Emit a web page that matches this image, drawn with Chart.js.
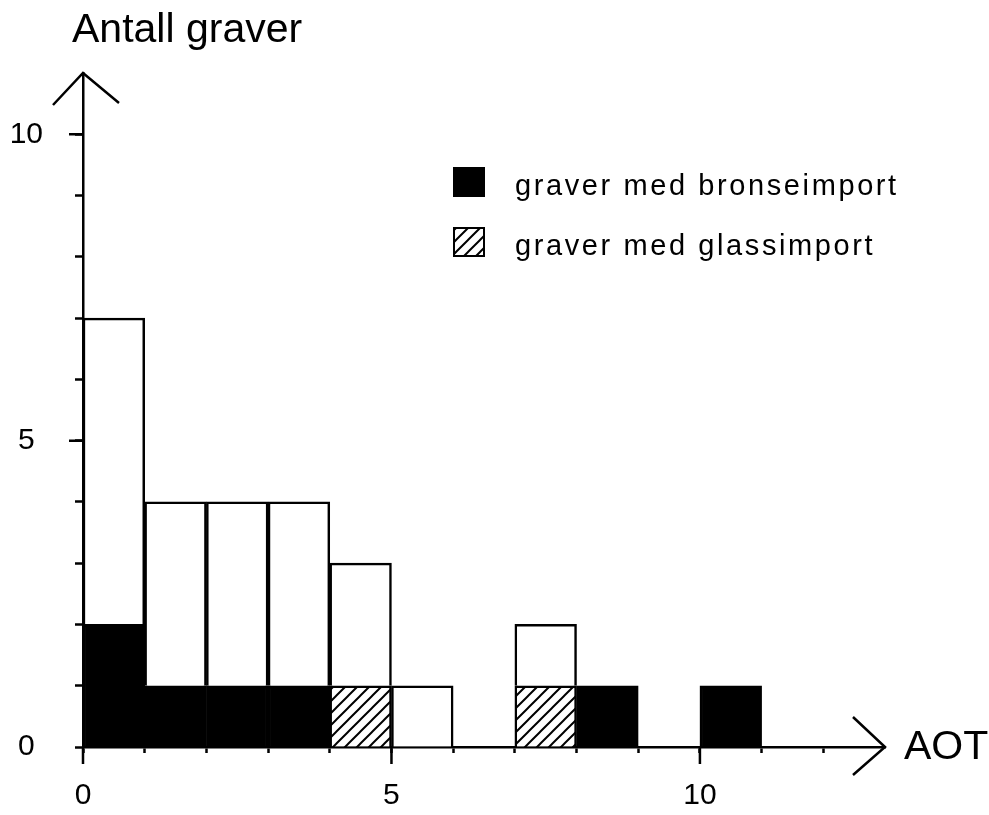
<!DOCTYPE html>
<html>
<head>
<meta charset="utf-8">
<script src="https://cdn.jsdelivr.net/npm/chart.js@4.4.1/dist/chart.umd.min.js"></script>
<style>
  html, body { margin: 0; padding: 0; background: #fff; }
  #wrap { width: 989px; height: 815px; }
</style>
</head>
<body>
<div id="wrap"><canvas id="myChart" width="989" height="815"></canvas></div>
<script>
// AOT bins (start of each interval, width 1)
const binStart = [0, 1, 2, 3, 4, 5, 6, 7, 8, 9, 10];
// number of graves per bin
const bronse = [2, 1, 1, 1, 0, 0, 0, 0, 1, 0, 1];
const glass  = [0, 0, 0, 0, 1, 0, 0, 1, 0, 0, 0];
const andre  = [5, 3, 3, 3, 2, 1, 0, 1, 0, 0, 0];
// labelled ticks
const xLabels = [0, 5, 10];
const yLabels = [0, 5, 10];

const seriesNames = ['graver med bronseimport', 'graver med glassimport', 'andre graver'];
const yTitle = 'Antall graver';
const xTitle = 'AOT';

const ctx = document.getElementById('myChart').getContext('2d');
const FONT = "'Liberation Sans', Arial, Helvetica, sans-serif";

// diagonal hatch for glass
function makeHatch() {
    const c = document.createElement('canvas');
    c.width = 12; c.height = 12;
    const g = c.getContext('2d');
    g.fillStyle = '#fff';
    g.fillRect(0, 0, 12, 12);
    g.strokeStyle = '#000';
    g.lineWidth = 2;
    g.beginPath();
    g.moveTo(0, 12); g.lineTo(12, 0);
    g.moveTo(-6, 6); g.lineTo(6, -6);
    g.moveTo(6, 18); g.lineTo(18, 6);
    g.stroke();
    return ctx.createPattern(c, 'repeat');
}
const hatch = makeHatch();

function toPoints(values) {
    return values.map((v, i) => ({ x: binStart[i] + 0.5, y: v }));
}

// arrows, long ticks, titles and legend
const decor = {
    id: 'decor',
    afterDraw(chart) {
        const c = chart.ctx;
        const xs = chart.scales.x, ys = chart.scales.y;
        const x0 = xs.getPixelForValue(0), y0 = ys.getPixelForValue(0);
        const top = chart.chartArea.top, right = chart.chartArea.right;
        c.save();
        c.strokeStyle = '#000';
        c.lineWidth = 2.5;
        c.beginPath();
        // y arrow
        c.moveTo(x0 - 30, top + 32); c.lineTo(x0, top); c.lineTo(x0 + 36, top + 30);
        // x arrow
        c.moveTo(right - 32, y0 - 30); c.lineTo(right, y0); c.lineTo(right - 32, y0 + 28);
        // longer ticks
        xLabels.forEach(v => { const p = xs.getPixelForValue(v); c.moveTo(p, y0); c.lineTo(p, y0 + 17); });
        yLabels.filter(v => v > 0).forEach(v => { const p = ys.getPixelForValue(v); c.moveTo(x0, p); c.lineTo(x0 - 14, p); });
        c.stroke();

        c.fillStyle = '#000';
        c.textBaseline = 'alphabetic';
        c.font = '41px ' + FONT;
        c.textAlign = 'left';
        c.fillText(yTitle, 72, 42);
        c.fillText(xTitle, 904, y0 + 12);

        // legend
        c.font = '29px ' + FONT;
        c.letterSpacing = '2.6px';
        const ds = chart.data.datasets;
        [0, 1].forEach((k, i) => {
            const by = 167 + i * 60;
            c.fillStyle = ds[k].backgroundColor;
            c.fillRect(453, by, 32, 30);
            c.lineWidth = 2;
            c.strokeRect(454, by + 1, 30, 28);
            c.fillStyle = '#000';
            c.fillText(ds[k].label, 515, by + 28);
        });
        c.restore();
    }
};

new Chart(ctx, {
    type: 'bar',
    data: {
        datasets: [
            { label: seriesNames[0], data: toPoints(bronse), backgroundColor: '#000', borderColor: '#000', borderWidth: 2.5 },
            { label: seriesNames[1], data: toPoints(glass), backgroundColor: hatch, borderColor: '#000', borderWidth: 2.5 },
            { label: seriesNames[2], data: toPoints(andre), backgroundColor: '#fff', borderColor: '#000', borderWidth: 2.5 }
        ]
    },
    options: {
        responsive: false,
        animation: false,
        barPercentage: 1,
        categoryPercentage: 1,
        layout: { padding: { top: 73, right: 104, left: 0, bottom: 0 } },
        plugins: { legend: { display: false }, tooltip: { enabled: false } },
        scales: {
            x: {
                type: 'linear',
                stacked: true,
                min: 0,
                max: 13,
                offset: false,
                grid: { offset: false, drawOnChartArea: false, drawTicks: true, tickLength: 6, tickColor: '#000', tickWidth: 2.5 },
                border: { display: true, color: '#000', width: 2.5 },
                ticks: {
                    stepSize: 1,
                    padding: 25,
                    maxRotation: 0,
                    autoSkip: false,
                    color: '#000',
                    font: { family: FONT, size: 30 },
                    callback: v => xLabels.includes(v) ? String(v) : ''
                },
                afterBuildTicks: s => { s.ticks = s.ticks.filter(t => t.value <= 12); },
                afterFit: s => { s.height = 68; }
            },
            y: {
                stacked: true,
                min: 0,
                max: 11,
                grid: { drawOnChartArea: false, drawTicks: true, tickLength: 8, tickColor: '#000', tickWidth: 2.5 },
                border: { display: true, color: '#000', width: 2.5 },
                ticks: {
                    stepSize: 1,
                    padding: 32,
                    crossAlign: 'center',
                    color: '#000',
                    font: { family: FONT, size: 30 },
                    callback: v => yLabels.includes(v) ? String(v) : ''
                },
                afterBuildTicks: s => { s.ticks = s.ticks.filter(t => t.value <= 10); },
                afterFit: s => { s.width = 83; }
            }
        }
    },
    plugins: [decor]
});
</script>
</body>
</html>
